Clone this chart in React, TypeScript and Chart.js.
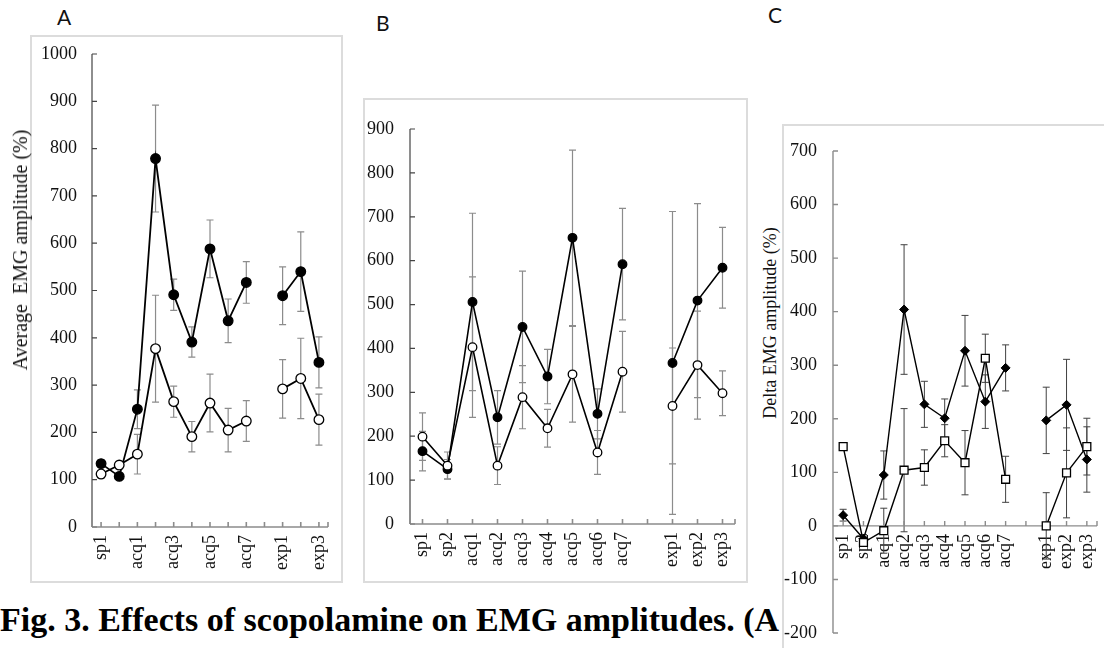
import React, { useEffect, useRef } from 'react';
import { Chart, registerables } from 'chart.js';
Chart.register(...registerables);

const FONT = '"Liberation Serif", "Times New Roman", serif';
Chart.defaults.font.family = FONT;

// categories (index 9 is the empty gap between acquisition and expression sessions)
const categories = ['sp1', 'sp2', 'acq1', 'acq2', 'acq3', 'acq4', 'acq5', 'acq6', 'acq7', '', 'exp1', 'exp2', 'exp3'];

// Panel A: average EMG amplitude (%)
const aFilled = [134, 107, 249, 779, 491, 391, 588, 436, 517, null, 489, 540, 348];
const aFilledErr = [8, 6, 41, 113, 33, 32, 61, 46, 44, null, 61, 84, 54];
const aOpen = [112, 131, 154, 377, 265, 191, 262, 205, 224, null, 292, 314, 227];
const aOpenErr = [8, 8, 42, 113, 33, 32, 61, 46, 43, null, 62, 85, 54];

// Panel B
const bFilled = [166, 125, 506, 243, 449, 336, 652, 251, 592, null, 367, 509, 584];
const bFilledErr = [45, 22, 202, 61, 127, 62, 200, 57, 127, null, 345, 221, 92];
const bOpen = [199, 133, 403, 133, 289, 218, 341, 163, 347, null, 269, 362, 298];
const bOpenErr = [54, 31, 160, 43, 72, 43, 109, 50, 92, null, 132, 123, 51];

// Panel C: delta EMG amplitude (%)
const cDiamond = [20, -24, 95, 404, 227, 201, 327, 232, 295, null, 197, 226, 124];
const cDiamondErr = [11, 8, 45, 121, 43, 36, 66, 50, 43, null, 62, 85, 61];
const cSquare = [148, -31, -9, 104, 109, 159, 118, 313, 87, null, 0, 99, 148];
const cSquareErr = [5, 5, 42, 115, 33, 30, 60, 45, 43, null, 62, 84, 53];

// axis ranges
const aRange = [0, 1000];
const bRange = [0, 900];
const cRange = [-200, 700];

const caption = 'Fig. 3. Effects of scopolamine on EMG amplitudes. (A';

function makeDeco(p: any) {
  return {
    id: 'deco',
    beforeDatasetsDraw(chart: any) {
      const ctx = chart.ctx;
      const { left, right, top, bottom } = chart.chartArea;
      const xs = chart.scales.x;
      const ys = chart.scales.y;
      ctx.save();
      // error bars
      p.errors.forEach((errs: any[], di: number) => {
        const vals = chart.data.datasets[di].data;
        ctx.strokeStyle = p.errColor;
        ctx.lineWidth = p.errWidth;
        vals.forEach((v: any, j: number) => {
          if (v == null || errs[j] == null) return;
          const x = xs.getPixelForValue(j);
          const y1 = ys.getPixelForValue(v + errs[j]);
          const y2 = ys.getPixelForValue(v - errs[j]);
          const cap = 3.5;
          ctx.beginPath();
          ctx.moveTo(x, y1);
          ctx.lineTo(x, y2);
          ctx.moveTo(x - cap, y1);
          ctx.lineTo(x + cap, y1);
          ctx.moveTo(x - cap, y2);
          ctx.lineTo(x + cap, y2);
          ctx.stroke();
        });
      });
      // y axis
      ctx.strokeStyle = p.yAxisColor;
      ctx.lineWidth = p.yAxisWidth;
      ctx.beginPath();
      ctx.moveTo(left, top);
      ctx.lineTo(left, bottom);
      ys.ticks.forEach((t: any) => {
        const y = ys.getPixelForValue(t.value);
        ctx.moveTo(left, y);
        ctx.lineTo(left + 5, y);
      });
      ctx.stroke();
      // x axis
      const y0 = ys.getPixelForValue(0);
      ctx.strokeStyle = p.xAxisColor;
      ctx.lineWidth = p.xAxisWidth;
      ctx.beginPath();
      ctx.moveTo(left, y0);
      ctx.lineTo(right, y0);
      for (let j = 0; j < categories.length; j++) {
        const x = xs.getPixelForValue(j);
        ctx.moveTo(x, y0);
        ctx.lineTo(x, y0 - 5);
      }
      ctx.moveTo(right, y0);
      ctx.lineTo(right, y0 - 5);
      ctx.stroke();
      ctx.restore();
    },
  };
}

function Panel({ p }: { p: any }) {
  const ref = useRef<HTMLCanvasElement>(null);
  useEffect(() => {
    const chart = new Chart(ref.current as HTMLCanvasElement, {
      type: 'line',
      data: { labels: categories, datasets: p.datasets },
      options: {
        responsive: false,
        animation: false,
        events: [],
        layout: { padding: p.padding },
        plugins: { legend: { display: false }, tooltip: { enabled: false } },
        scales: {
          x: {
            type: 'category',
            offset: true,
            position: p.xAtZero ? { y: 0 } : 'bottom',
            grid: { display: false, drawTicks: false },
            border: { display: false },
            ticks: {
              autoSkip: false,
              minRotation: 90,
              maxRotation: 90,
              padding: 8,
              color: '#111',
              font: { family: FONT, size: 18 },
              callback: (_v: any, i: number) => (p.every === 2 ? (i % 2 === 0 ? categories[i] : '') : categories[i]),
            },
            afterFit: (s: any) => {
              s.height = p.xHeight;
              s.paddingLeft = 0;
              s.paddingRight = 0;
            },
          },
          y: {
            type: 'linear',
            min: p.range[0],
            max: p.range[1],
            grid: { display: false, drawTicks: false },
            border: { display: false },
            ticks: {
              stepSize: 100,
              padding: p.yPad,
              color: '#111',
              font: { family: FONT, size: 18 },
              callback: (v: any) => String(v),
            },
            afterFit: (s: any) => {
              s.width = p.yWidth;
              s.paddingTop = 0;
              s.paddingBottom = 0;
            },
          },
        },
      } as any,
      plugins: [makeDeco(p)],
    });
    let alive = true;
    const fonts: any = (document as any).fonts;
    if (fonts && fonts.load) {
      Promise.all([fonts.load('18px "Liberation Serif"'), fonts.load('bold 18px "Liberation Serif"')])
        .then(() => { if (alive) chart.update(); })
        .catch(() => {});
    }
    return () => { alive = false; chart.destroy(); };
  }, []);
  return (
    <canvas
      ref={ref}
      width={p.w}
      height={p.h}
      style={{ position: 'absolute', left: p.left, top: p.top, width: p.w, height: p.h }}
    />
  );
}

const circle = (data: any[], filled: boolean, r: number, lw: number) => ({
  data,
  borderColor: '#000',
  borderWidth: lw,
  pointStyle: 'circle',
  pointRadius: r,
  pointBackgroundColor: filled ? '#000' : '#fff',
  pointBorderColor: '#000',
  pointBorderWidth: 1.3,
  spanGaps: false,
  fill: false,
  tension: 0,
});

const panelA = {
  left: 30, top: 35, w: 313, h: 548,
  padding: { top: 19, right: 15, left: 0, bottom: 0 },
  yWidth: 62, xHeight: 56, yPad: 15, range: aRange, every: 2, xAtZero: false,
  datasets: [circle(aOpen, false, 4.8, 1.8), circle(aFilled, true, 4.8, 1.8)],
  errors: [aOpenErr, aFilledErr],
  errColor: '#8c8c8c', errWidth: 1.2,
  yAxisColor: '#444', yAxisWidth: 1.2, xAxisColor: '#8c8c8c', xAxisWidth: 1.6,
};

const panelB = {
  left: 363, top: 98, w: 385, h: 485,
  padding: { top: 31, right: 13, left: 0, bottom: 0 },
  yWidth: 47, xHeight: 59, yPad: 16, range: bRange, every: 1, xAtZero: false,
  datasets: [circle(bOpen, false, 4.3, 1.6), circle(bFilled, true, 4.3, 1.6)],
  errors: [bOpenErr, bFilledErr],
  errColor: '#8c8c8c', errWidth: 1.2,
  yAxisColor: '#444', yAxisWidth: 1.2, xAxisColor: '#8c8c8c', xAxisWidth: 1.6,
};

const panelC = {
  left: 782, top: 124, w: 322, h: 524,
  padding: { top: 27, right: 7, left: 0, bottom: 15 },
  yWidth: 51, xHeight: 0, yPad: 16, range: cRange, every: 1, xAtZero: true,
  datasets: [
    {
      data: cSquare, borderColor: '#000', borderWidth: 1.4, pointStyle: 'rect', pointRadius: 5.6,
      pointBackgroundColor: '#fff', pointBorderColor: '#000', pointBorderWidth: 1.3, spanGaps: false, fill: false, tension: 0,
    },
    {
      data: cDiamond, borderColor: '#000', borderWidth: 1.4, pointStyle: 'rectRot', pointRadius: 4.5,
      pointBackgroundColor: '#000', pointBorderColor: '#000', pointBorderWidth: 1, spanGaps: false, fill: false, tension: 0,
    },
  ],
  errors: [cSquareErr, cDiamondErr],
  errColor: '#404040', errWidth: 1,
  yAxisColor: '#8c8c8c', yAxisWidth: 1.4, xAxisColor: '#8c8c8c', xAxisWidth: 1.4,
};

const boxStyle = (l: number, t: number, w: number, h: number): React.CSSProperties => ({
  position: 'absolute', left: l, top: t, width: w, height: h, border: '2px solid #dcdcdc', boxSizing: 'border-box',
});

const letter = (l: number, t: number): React.CSSProperties => ({
  position: 'absolute', left: l, top: t, fontFamily: 'Lato, "Open Sans", sans-serif', fontSize: 21, lineHeight: '21px', color: '#111',
});

const vTitle = (cx: number, cy: number, size: number): React.CSSProperties => ({
  position: 'absolute', left: cx, top: cy, transform: 'translate(-50%, -50%) rotate(-90deg)', whiteSpace: 'pre',
  fontFamily: FONT, fontSize: size, lineHeight: `${size}px`, color: '#111',
});

export default function App() {
  return (
    <div style={{ position: 'absolute', left: 0, top: 0, width: 1104, height: 648, overflow: 'hidden', background: '#fff' }}>
      <div style={{
        position: 'absolute', left: 0, top: 600, fontFamily: FONT, fontWeight: 'bold', fontSize: 34, lineHeight: '40px',
        whiteSpace: 'pre', color: '#000',
      }}>{caption}</div>
      <div style={boxStyle(30, 35, 313, 548)} />
      <div style={boxStyle(363, 98, 385, 485)} />
      <div style={boxStyle(782, 124, 340, 560)} />
      <Panel p={panelA} />
      <Panel p={panelB} />
      <Panel p={panelC} />
      <div style={letter(57, 6)}>A</div>
      <div style={letter(376, 12)}>B</div>
      <div style={letter(768, 4)}>C</div>
      <div style={vTitle(20, 250, 20)}>{'Average  EMG amplitude (%)'}</div>
      <div style={vTitle(770, 323, 18)}>{'Delta EMG amplitude (%)'}</div>
    </div>
  );
}
